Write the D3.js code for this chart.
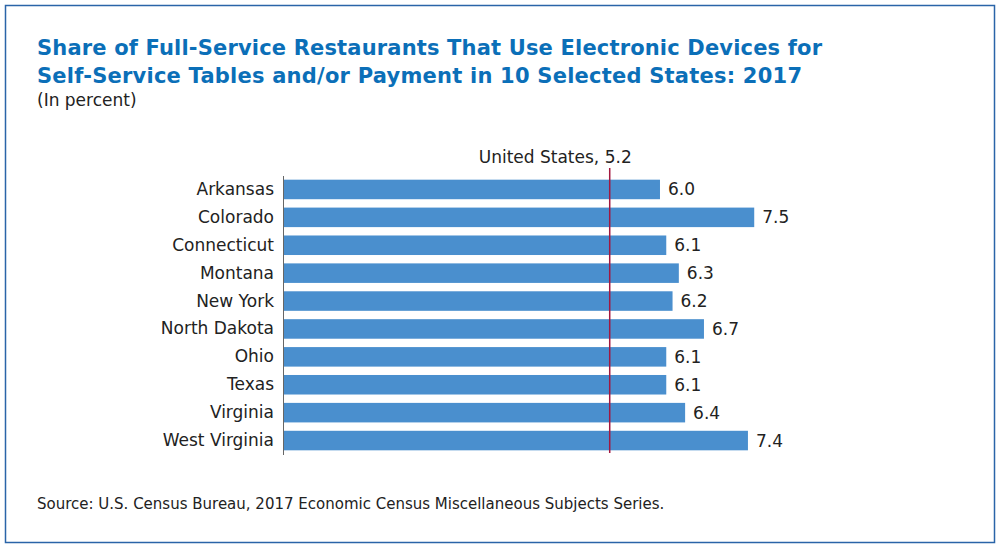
<!DOCTYPE html>
<html><head><meta charset="utf-8">
<script src="https://cdn.jsdelivr.net/npm/d3@7"></script>
<style>body{margin:0;background:#fff}text{font-family:"DejaVu Sans",sans-serif}</style>
</head><body><div id="chart"></div>
<script>
const states = ["Arkansas","Colorado","Connecticut","Montana","New York","North Dakota","Ohio","Texas","Virginia","West Virginia"];
const shares = [6.0,7.5,6.1,6.3,6.2,6.7,6.1,6.1,6.4,7.4];
const usValue = 5.2;

const svg = d3.select("#chart").append("svg").attr("width",1000).attr("height",549);
svg.append("rect").attr("x",5.5).attr("y",5.5).attr("width",989).attr("height",537)
  .attr("fill","none").attr("stroke","#2a64a8").attr("stroke-width",1.5);

const title = svg.append("text").attr("x",37).attr("y",55).attr("fill","#0b6fb8")
  .attr("font-size",21).attr("font-weight","bold");
title.append("tspan").attr("textLength",785).text("Share of Full-Service Restaurants That Use Electronic Devices for");
title.append("tspan").attr("x",37).attr("dy",28).attr("textLength",765).text("Self-Service Tables and/or Payment in 10 Selected States: 2017");
svg.append("text").attr("x",37).attr("y",106).attr("font-size",17).attr("fill","#222").text("(In percent)");

const x = d3.scaleLinear().domain([0,1]).range([283,283+62.83]);
const y = d3.scaleBand().domain(states).range([175.5,454.5]).paddingInner(0.3).paddingOuter(0.15);

svg.selectAll(".bar").data(states).join("rect")
  .attr("x",x(0)).attr("y",d=>y(d)).attr("height",y.bandwidth())
  .attr("width",(d,i)=>x(shares[i])-x(0)).attr("fill","#4a8fce");

svg.selectAll(".val").data(states).join("text")
  .attr("x",(d,i)=>x(shares[i])+8).attr("y",d=>y(d)+y.bandwidth()/2).attr("dy","0.35em")
  .attr("font-size",17).attr("fill","#222").text((d,i)=>shares[i].toFixed(1));

const ax = svg.append("g").attr("transform",`translate(${x(0)},0)`)
  .call(d3.axisLeft(y).tickSize(0).tickPadding(9));
ax.select(".domain").attr("stroke","#666");
ax.selectAll("text").attr("font-size",17).attr("fill","#222").attr("font-family","DejaVu Sans");

svg.append("line").attr("x1",x(usValue)).attr("x2",x(usValue)).attr("y1",168).attr("y2",453)
  .attr("stroke","#a3173f").attr("stroke-width",1.5);
svg.append("text").attr("x",x(usValue)+22).attr("y",163).attr("text-anchor","end")
  .attr("font-size",17).attr("fill","#222").text("United States, "+usValue.toFixed(1));

svg.append("text").attr("x",37).attr("y",509).attr("font-size",15).attr("fill","#222")
  .text("Source: U.S. Census Bureau, 2017 Economic Census Miscellaneous Subjects Series.");
</script></body></html>
